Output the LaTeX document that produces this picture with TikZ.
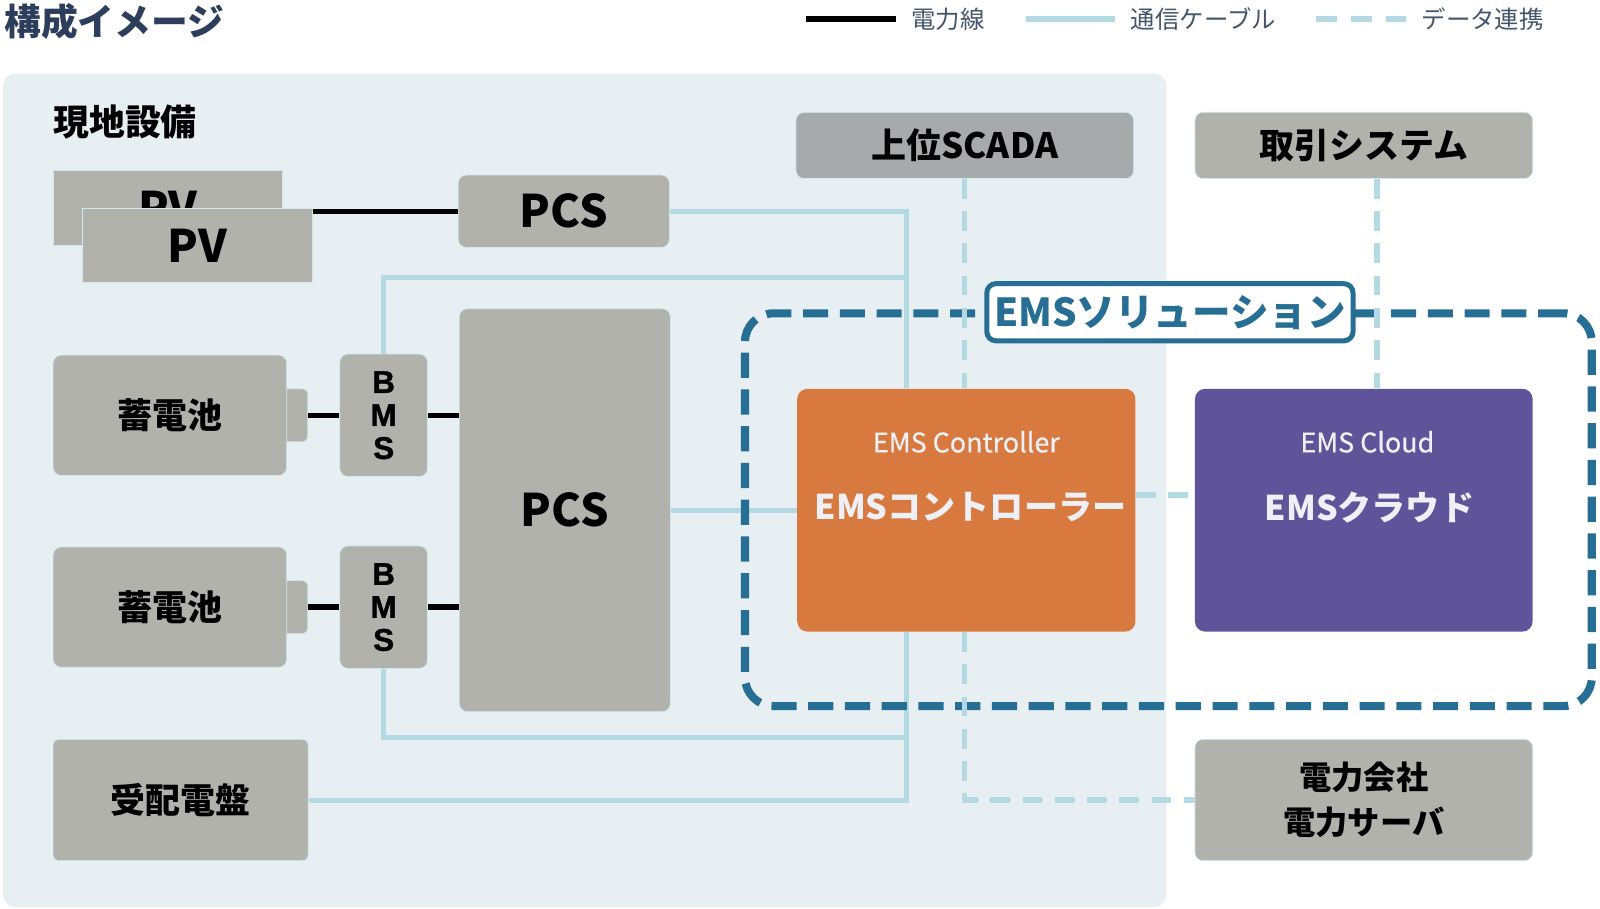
\documentclass[tikz,border=0pt]{standalone}
\usepackage{fontspec}
\setmainfont{Noto Sans CJK JP}
\newfontfamily\bmsfont{Liberation Sans}[BoldFeatures={FakeBold=1.2}]
\newfontfamily\subfont{Noto Sans CJK JP}[FakeBold=0.6]
\definecolor{panelbg}{HTML}{E8EFF3}
\definecolor{boxgray}{HTML}{B2B2AD}
\definecolor{scadagray}{HTML}{A6AAAB}
\definecolor{commblue}{HTML}{B3D9E2}
\definecolor{ctrlorange}{HTML}{D87A40}
\definecolor{cloudpurple}{HTML}{5F5399}
\definecolor{emsteal}{HTML}{266E93}
\definecolor{titlenavy}{HTML}{2C3E5C}
\definecolor{legendtext}{HTML}{45556B}
\definecolor{boxtext}{HTML}{EEF0F6}

\begin{document}
\begin{tikzpicture}[
  x=0.02cm, y=-0.02cm,
  graybox/.style={fill=boxgray, draw=commblue!60!white, line width=0.4pt, rounded corners=0.16cm, inner sep=0pt, text=black},
  jpfont/.style={font=\fontsize{19.5pt}{23pt}\selectfont\bfseries},
  bigfont/.style={font=\fontsize{25pt}{29pt}\selectfont\bfseries},
  pvbox/.style={graybox, sharp corners, bigfont, minimum width=4.5cm, minimum height=1.46cm},
  batbody/.style={graybox, jpfont, minimum width=4.58cm, minimum height=2.36cm},
  battip/.style={graybox, rounded corners=0.1cm, minimum width=0.6cm, minimum height=1.04cm},
  bmsbox/.style={graybox, minimum width=1.72cm, minimum height=2.4cm, align=center,
    font=\bmsfont\bfseries\fontsize{17.5pt}{18.4pt}\selectfont},
  topbox/.style={graybox, jpfont, minimum width=6.62cm, minimum height=1.3cm},
  emsbox/.style={rounded corners=0.2cm, minimum width=6.63cm, minimum height=4.76cm, inner sep=0pt},
  subtxt/.style={text=boxtext, inner sep=0pt, font=\subfont\fontsize{15pt}{18pt}\selectfont},
  maintxt/.style={text=boxtext, inner sep=0pt, font=\fontsize{19pt}{22pt}\selectfont\bfseries},
  legendtxt/.style={anchor=west, inner sep=0pt, text=legendtext, font=\fontsize{13.6pt}{16pt}\selectfont},
  powerline/.style={draw=black, line width=3pt},
  commline/.style={draw=commblue, line width=2.8pt},
  dataline/.style={draw=commblue, line width=3pt, dash pattern=on 11pt off 7pt},
  solframe/.style={draw=emsteal, line width=4.5pt, dash pattern=on 14pt off 6.5pt, rounded corners=0.56cm,
    minimum width=16.6cm, minimum height=7.7cm, inner sep=0pt},
  sollabel/.style={draw=emsteal, fill=white, line width=2.8pt, rounded corners=0.18cm, text=emsteal,
    minimum width=7.18cm, minimum height=1.12cm, inner sep=0pt, font=\fontsize{21.5pt}{25pt}\selectfont\bfseries}
]
  \useasboundingbox (0,0) rectangle (1568,890);
  \fill[panelbg, rounded corners=0.24cm] (3,72) rectangle (1143,889);

  % title and legend
  \node[anchor=west, inner sep=0pt, text=titlenavy, font=\fontsize{20.5pt}{24pt}\selectfont\bfseries] (title) at (4,21) {構成イメージ};
  \coordinate (lgpa) at (790,19);
  \coordinate (lgpb) at (878,19);
  \coordinate (lgca) at (1005,19);
  \coordinate (lgcb) at (1093,19);
  \coordinate (lgda) at (1290,19);
  \coordinate (lgdb) at (1378,19);
  \draw[powerline, line width=3.3pt] (lgpa) -- (lgpb);
  \draw[commline, line width=3.3pt] (lgca) -- (lgcb);
  \draw[dataline, line width=3.3pt, dash pattern=on 11.4pt off 8pt] (lgda) -- (lgdb);
  \node[legendtxt] (lgp) at (893,19) {電力線};
  \node[legendtxt] (lgc) at (1108,19) {通信ケーブル};
  \node[legendtxt] (lgd) at (1393,19) {データ連携};

  \node[anchor=west, inner sep=0pt, font=\fontsize{20pt}{24pt}\selectfont\bfseries] (site) at (52,120) {現地設備};

  % site equipment
  \node[pvbox] (pvback) at (164.5,203.5) {PV};
  \node[pvbox] (pvfront) at (193.5,240.5) {PV};
  \node[graybox, bigfont, minimum width=4.14cm, minimum height=1.42cm] (pcstop) at (552.5,207) {PCS};
  \node[graybox, bigfont, minimum width=4.14cm, minimum height=7.9cm] (pcsbig) at (553.5,500) {PCS};

  \node[battip, anchor=east] (bat1tip) at (302,407) {};
  \node[batbody] (bat1) at (166.5,407) {蓄電池};
  \node[bmsbox] (bms1) at (376,407) {B\\M\\S};
  \node[battip, anchor=east] (bat2tip) at (302,595) {};
  \node[batbody] (bat2) at (166.5,595) {蓄電池};
  \node[bmsbox] (bms2) at (376,595) {B\\M\\S};

  \node[graybox, jpfont, rounded corners=0.1cm, minimum width=5cm, minimum height=2.38cm] (swg) at (177,784) {受配電盤};

  % upper systems
  \node[topbox, fill=scadagray] (scada) at (945.5,142.5) {上位SCADA};
  \node[topbox] (trade) at (1336.5,142.5) {取引システム};
  \node[topbox, align=center, minimum height=2.38cm, font=\fontsize{18pt}{25pt}\selectfont\bfseries] (utility) at (1336.5,784) {電力会社\\電力サーバ};

  % power lines
  \draw[powerline] (pvfront.east |- pcstop.west) -- (pcstop.west);
  \draw[powerline] (bat1tip.east) -- (bms1.west);
  \draw[powerline] (bms1.east) -- (bms1.east -| pcsbig.west);
  \draw[powerline] (bat2tip.east) -- (bms2.west);
  \draw[powerline] (bms2.east) -- (bms2.east -| pcsbig.west);

  % EMS boxes
  \node[emsbox, fill=ctrlorange] (ctrl) at (947,500) {};
  \node[emsbox, fill=cloudpurple, minimum width=6.62cm] (cloud) at (1336.5,500) {};
  \node[subtxt] (ctrlen) at (947,433) {EMS Controller};
  \node[maintxt] (ctrljp) at (951,497) {EMSコントローラー};
  \node[subtxt] (clouden) at (1340,433) {EMS Cloud};
  \node[maintxt] (cloudjp) at (1342,497) {EMSクラウド};

  % communication cables
  \coordinate (bus) at (888,0);
  \coordinate (tapa) at (888,272);
  \coordinate (tapb) at (888,723);
  \draw[commline] (pcstop.east) -| (bus |- ctrl.north);
  \draw[commline] (bms1.north) |- (tapa);
  \draw[commline] (pcsbig.east) -- (pcsbig.east -| ctrl.west);
  \draw[commline] (bms2.south) |- (tapb);
  \draw[commline] (swg.east) -| (bus |- ctrl.south);

  % solution frame
  \node[solframe] (emsframe) at (1145,499.5) {};

  % data links
  \draw[dataline] (scada.south) -- (scada.south |- ctrl.north);
  \draw[dataline] (scada.south |- ctrl.south) |- (utility.west);
  \draw[dataline] ([xshift=0.26cm]trade.south) -- ([xshift=0.26cm]trade.south |- cloud.north);
  \draw[dataline] ([yshift=0.3cm]ctrl.east) -- ([yshift=0.3cm]cloud.west);

  \node[sollabel] (emslabel) at (1146.5,306) {EMSソリューション};
\end{tikzpicture}
\end{document}
